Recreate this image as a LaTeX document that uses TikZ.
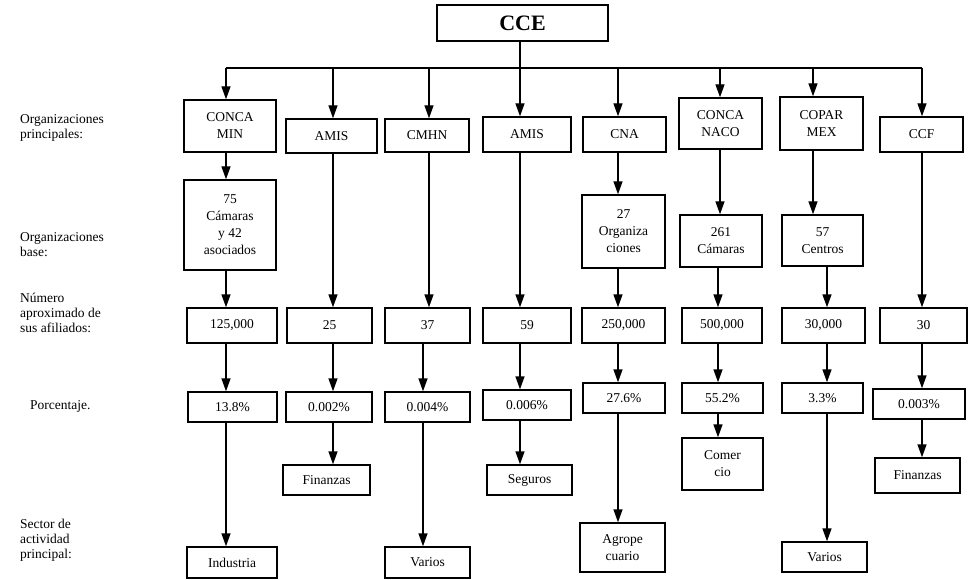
\documentclass[tikz,border=0pt]{standalone}
\usepackage{fontspec}
\setmainfont{Liberation Serif}
\usepackage{tikz}
\usetikzlibrary{arrows.meta,positioning}

\tikzset{
  orgbox/.style={ draw, line width=1.4pt, align=center, inner sep=1pt,
    font=\fontsize{13.5}{17}\selectfont }
}
\tikzset{
  rowlabel/.style={ anchor=west, align=left, inner sep=0pt,
    font=\fontsize{13.5}{15}\selectfont }
}
\tikzset{
  arr/.style={ line width=1.4pt, -{Triangle[length=13pt,width=9pt]} }
}
\tikzset{
  bus/.style={ line width=1.4pt }
}

\begin{document}
\begin{tikzpicture}[x=1pt, y=-1pt]
      \useasboundingbox (0,0) rectangle (969,580);

      % top
      \node[orgbox, minimum width=171, minimum height=36,
            font=\fontsize{22}{22}\selectfont\bfseries] (cce) at (522.5,23) {CCE};

      \coordinate (t1) at (226,68);
      \coordinate (t2) at (333,68);
      \coordinate (t3) at (429,68);
      \coordinate (t4) at (520,68);
      \coordinate (t5) at (618,68);
      \coordinate (t6) at (720,68);
      \coordinate (t7) at (813,68);
      \coordinate (t8) at (922,68);
      \coordinate (u3) at (423,68);
      \coordinate (u6) at (718,68);
      \coordinate (u7) at (827,68);

      % row labels
      \node[rowlabel] (lprin) at (20,128) {Organizaciones\\principales:};
      \node[rowlabel] (lbase) at (20,245) {Organizaciones\\base:};
      \node[rowlabel] (lnum) at (20,313) {Número\\aproximado de\\sus afiliados:};
      \node[rowlabel] (lpor) at (30,406) {Porcentaje.};
      \node[rowlabel] (lsec) at (20,540) {Sector de\\actividad\\principal:};

      % organizaciones principales
      \node[orgbox, minimum width=92, minimum height=52] (a1) at (230,126) {CONCA\\MIN};
      \node[orgbox, minimum width=91, minimum height=34] (a2) at (331.5,136) {AMIS};
      \node[orgbox, minimum width=84, minimum height=33] (a3) at (427,135.5) {CMHN};
      \node[orgbox, minimum width=88, minimum height=35] (a4) at (527,134.5) {AMIS};
      \node[orgbox, minimum width=83, minimum height=35] (a5) at (624.5,134.5) {CNA};
      \node[orgbox, minimum width=83, minimum height=51] (a6) at (720.5,123.5) {CONCA\\NACO};
      \node[orgbox, minimum width=83, minimum height=53] (a7) at (821.5,123.5) {COPAR\\MEX};
      \node[orgbox, minimum width=83, minimum height=35] (a8) at (921.5,134.5) {CCF};

      % organizaciones base
      \node[orgbox, minimum width=92, minimum height=90] (b1) at (230,225) {75\\Cámaras\\y 42\\asociados};
      \node[orgbox, minimum width=83, minimum height=73] (b5) at (623.5,231.5) {27\\Organiza\\ciones};
      \node[orgbox, minimum width=82, minimum height=52] (b6) at (721,241) {261\\Cámaras};
      \node[orgbox, minimum width=81, minimum height=51] (b7) at (822.5,240.5) {57\\Centros};

      % afiliados
      \node[orgbox, minimum width=90, minimum height=35] (n1) at (232,325.5) {125,000};
      \node[orgbox, minimum width=85, minimum height=35] (n2) at (329.5,325.5) {25};
      \node[orgbox, minimum width=85, minimum height=35] (n3) at (427.5,325.5) {37};
      \node[orgbox, minimum width=88, minimum height=35] (n4) at (527,325.5) {59};
      \node[orgbox, minimum width=83, minimum height=35] (n5) at (623.5,325.5) {250,000};
      \node[orgbox, minimum width=80, minimum height=35] (n6) at (722,325.5) {500,000};
      \node[orgbox, minimum width=83, minimum height=35] (n7) at (823.5,325.5) {30,000};
      \node[orgbox, minimum width=87, minimum height=35] (n8) at (923.5,325.5) {30};

      % porcentaje
      \node[orgbox, minimum width=89, minimum height=30] (p1) at (232.5,407) {13.8\%};
      \node[orgbox, minimum width=86, minimum height=30] (p2) at (329,407) {0.002\%};
      \node[orgbox, minimum width=85, minimum height=30] (p3) at (427.5,407) {0.004\%};
      \node[orgbox, minimum width=88, minimum height=30] (p4) at (527,405) {0.006\%};
      \node[orgbox, minimum width=82, minimum height=30] (p5) at (624,398) {27.6\%};
      \node[orgbox, minimum width=81, minimum height=30] (p6) at (722.5,398) {55.2\%};
      \node[orgbox, minimum width=81, minimum height=30] (p7) at (822.5,398) {3.3\%};
      \node[orgbox, minimum width=92, minimum height=30] (p8) at (919,404) {0.003\%};

      % sector
      \node[orgbox, minimum width=90, minimum height=31] (s1) at (232,562.5) {Industria};
      \node[orgbox, minimum width=87, minimum height=30] (s2) at (326.5,480) {Finanzas};
      \node[orgbox, minimum width=85, minimum height=31] (s3) at (427.5,562.5) {Varios};
      \node[orgbox, minimum width=85, minimum height=30] (s4) at (529.5,480) {Seguros};
      \node[orgbox, minimum width=85, minimum height=49] (s5) at (622.5,547.5) {Agrope\\cuario};
      \node[orgbox, minimum width=81, minimum height=52] (s6) at (722.5,464) {Comer\\cio};
      \node[orgbox, minimum width=85, minimum height=30] (s7) at (824.5,557) {Varios};
      \node[orgbox, minimum width=85, minimum height=35] (s8) at (917.5,475.5) {Finanzas};

      % bus
      \draw[bus] (t1) -- (t8);
      \draw[arr] (t4 |- cce.south) -- (t4 |- a4.north);
      \draw[arr] (t1) -- (t1 |- a1.north);
      \draw[arr] (t2) -- (t2 |- a2.north);
      \draw[arr] (t3) -- (t3 |- a3.north);
      \draw[arr] (t5) -- (t5 |- a5.north);
      \draw[arr] (t6) -- (t6 |- a6.north);
      \draw[arr] (t7) -- (t7 |- a7.north);
      \draw[arr] (t8) -- (t8 |- a8.north);

      % down the columns
      \draw[arr] (t1 |- a1.south) -- (t1 |- b1.north);
      \draw[arr] (t1 |- b1.south) -- (t1 |- n1.north);
      \draw[arr] (t1 |- n1.south) -- (t1 |- p1.north);
      \draw[arr] (t1 |- p1.south) -- (t1 |- s1.north);

      \draw[arr] (t2 |- a2.south) -- (t2 |- n2.north);
      \draw[arr] (t2 |- n2.south) -- (t2 |- p2.north);
      \draw[arr] (t2 |- p2.south) -- (t2 |- s2.north);

      \draw[arr] (t3 |- a3.south) -- (t3 |- n3.north);
      \draw[arr] (u3 |- n3.south) -- (u3 |- p3.north);
      \draw[arr] (u3 |- p3.south) -- (u3 |- s3.north);

      \draw[arr] (t4 |- a4.south) -- (t4 |- n4.north);
      \draw[arr] (t4 |- n4.south) -- (t4 |- p4.north);
      \draw[arr] (t4 |- p4.south) -- (t4 |- s4.north);

      \draw[arr] (t5 |- a5.south) -- (t5 |- b5.north);
      \draw[arr] (t5 |- b5.south) -- (t5 |- n5.north);
      \draw[arr] (t5 |- n5.south) -- (t5 |- p5.north);
      \draw[arr] (t5 |- p5.south) -- (t5 |- s5.north);

      \draw[arr] (t6 |- a6.south) -- (t6 |- b6.north);
      \draw[arr] (u6 |- b6.south) -- (u6 |- n6.north);
      \draw[arr] (u6 |- n6.south) -- (u6 |- p6.north);
      \draw[arr] (u6 |- p6.south) -- (u6 |- s6.north);

      \draw[arr] (t7 |- a7.south) -- (t7 |- b7.north);
      \draw[arr] (u7 |- b7.south) -- (u7 |- n7.north);
      \draw[arr] (u7 |- n7.south) -- (u7 |- p7.north);
      \draw[arr] (u7 |- p7.south) -- (u7 |- s7.north);

      \draw[arr] (t8 |- a8.south) -- (t8 |- n8.north);
      \draw[arr] (t8 |- n8.south) -- (t8 |- p8.north);
      \draw[arr] (t8 |- p8.south) -- (t8 |- s8.north);

\end{tikzpicture}
\end{document}
